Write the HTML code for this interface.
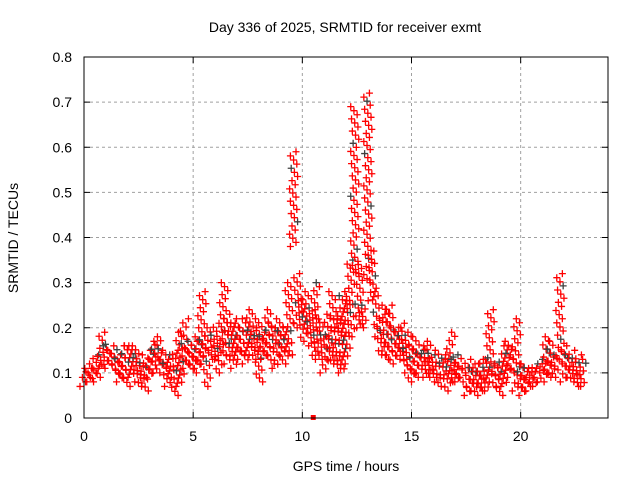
<!DOCTYPE html>
<html><head><meta charset="utf-8"><style>
body{margin:0;background:#fff}
svg{display:block;font-family:"Liberation Sans",sans-serif;font-size:14px}
</style></head><body>
<svg id="chart" width="640" height="480">
<text x="345" y="32" text-anchor="middle">Day 336 of 2025, SRMTID for receiver exmt</text>
<text x="346" y="471" text-anchor="middle">GPS time / hours</text>
<text transform="translate(18,238) rotate(-90)" text-anchor="middle">SRMTID / TECUs</text>
<g id="grid"></g>
<g id="ticks"></g>
<g id="marks"></g>
<rect x="84" y="57" width="524" height="361" fill="none" stroke="#000"/>
</svg>
<script>
const xTicks=[0,5,10,15,20];
const yTicks=[0,0.1,0.2,0.3,0.4,0.5,0.6,0.7,0.8];
const yTickLabels=["0","0.1","0.2","0.3","0.4","0.5","0.6","0.7","0.8"];
const times=[0,0.2,0.4,0.6,0.8,1,1.2,1.4,1.6,1.8,2,2.2,2.4,2.6,2.8,3,3.2,3.4,3.6,3.8,4,4.2,4.4,4.6,4.8,5,5.2,5.4,5.6,5.8,6,6.2,6.4,6.6,6.8,7,7.2,7.4,7.6,7.8,8,8.2,8.4,8.6,8.8,9,9.2,9.4,9.6,9.8,10,10.2,10.4,10.6,10.8,11,11.2,11.4,11.6,11.8,12,12.2,12.4,12.6,12.8,13,13.2,13.4,13.6,13.8,14,14.2,14.4,14.6,14.8,15,15.2,15.4,15.6,15.8,16,16.2,16.4,16.6,16.8,17,17.2,17.4,17.6,17.8,18,18.2,18.4,18.6,18.8,19,19.2,19.4,19.6,19.8,20,20.2,20.4,20.6,20.8,21,21.2,21.4,21.6,21.8,22,22.2,22.4,22.6,22.8];
const lowVals=[0.07,0.08,0.08,0.09,0.11,0.11,0.12,0.10,0.08,0.09,0.07,0.09,0.08,0.07,0.06,0.09,0.10,0.10,0.11,0.07,0.09,0.05,0.07,0.11,0.12,0.10,0.11,0.12,0.07,0.13,0.13,0.10,0.14,0.12,0.11,0.13,0.14,0.12,0.14,0.13,0.08,0.13,0.14,0.12,0.11,0.14,0.12,0.14,0.38,0.20,0.17,0.19,0.16,0.13,0.13,0.10,0.13,0.12,0.11,0.10,0.12,0.18,0.32,0.20,0.20,0.30,0.26,0.18,0.14,0.13,0.14,0.12,0.13,0.13,0.10,0.08,0.09,0.10,0.09,0.09,0.09,0.08,0.07,0.06,0.08,0.08,0.09,0.07,0.05,0.06,0.05,0.06,0.06,0.08,0.07,0.05,0.07,0.09,0.10,0.06,0.05,0.06,0.07,0.07,0.08,0.08,0.09,0.10,0.09,0.12,0.08,0.09,0.08,0.07,0.07];
const highVals=[0.11,0.11,0.12,0.14,0.19,0.16,0.15,0.16,0.14,0.16,0.16,0.16,0.16,0.14,0.13,0.15,0.17,0.18,0.15,0.13,0.14,0.15,0.19,0.22,0.17,0.17,0.18,0.28,0.20,0.17,0.21,0.19,0.30,0.23,0.22,0.21,0.20,0.22,0.24,0.20,0.22,0.19,0.24,0.21,0.20,0.22,0.20,0.30,0.59,0.32,0.26,0.28,0.24,0.30,0.22,0.18,0.23,0.28,0.22,0.28,0.26,0.35,0.69,0.34,0.25,0.72,0.37,0.28,0.23,0.25,0.25,0.20,0.20,0.21,0.19,0.16,0.18,0.15,0.16,0.17,0.14,0.15,0.13,0.14,0.19,0.13,0.14,0.11,0.13,0.12,0.12,0.13,0.13,0.24,0.12,0.12,0.16,0.17,0.14,0.22,0.12,0.12,0.11,0.12,0.12,0.13,0.18,0.17,0.14,0.32,0.16,0.14,0.15,0.14,0.13];
const NS="http://www.w3.org/2000/svg";
const X0=84,X1=608,Y0=418,Y1=57,XMAX=24,YMAX=0.8;
const xs=v=>X0+(X1-X0)*v/XMAX;
const ys=v=>Y0-(Y0-Y1)*v/YMAX;
function mk(tag,attrs,parent){const e=document.createElementNS(NS,tag);for(const k in attrs)e.setAttribute(k,attrs[k]);parent.appendChild(e);return e;}
const grid=document.getElementById('grid'),ticks=document.getElementById('ticks'),marks=document.getElementById('marks');
xTicks.forEach(t=>{const x=xs(t);
 if(t>0){const g=mk('line',{x1:x,x2:x,y1:Y0,y2:Y1,stroke:'#a0a0a0','stroke-dasharray':'3,3'},grid);
 
 }
 mk('line',{x1:x,x2:x,y1:Y0,y2:Y0-6,stroke:'#000'},ticks);
 mk('line',{x1:x,x2:x,y1:Y1,y2:Y1+6,stroke:'#000'},ticks);
 const l=mk('text',{x:x,y:Y0+23,'text-anchor':'middle'},ticks);l.textContent=t;
 
 
});
yTicks.forEach((t,i)=>{const y=ys(t);
 if(t>0&&t<YMAX){const g=mk('line',{x1:X0,x2:X1,y1:y,y2:y,stroke:'#a0a0a0','stroke-dasharray':'3,3'},grid);
 
 }
 mk('line',{x1:X0,x2:X0+6,y1:y,y2:y,stroke:'#000'},ticks);
 mk('line',{x1:X1,x2:X1-6,y1:y,y2:y,stroke:'#000'},ticks);
 const l=mk('text',{x:X0-12,y:y+5,'text-anchor':'end'},ticks);l.textContent=yTickLabels[i];
 
 
});
function cross(x,y,col){const p=mk('path',{d:`M${x-3.5},${y}h7M${x},${y-3.5}v7`,stroke:col,'stroke-width':1.3},marks);
 
 }
times.forEach((t,i)=>{
 const lo=lowVals[i],hi=highVals[i];
 const n=Math.max(4,Math.round((hi-lo)/0.009));
 for(let k=0;k<=n;k++){
  const v=lo+(hi-lo)*k/n;
  const dx=(((k*7+i*3)%11)-5)*0.8;
  cross(xs(t)+dx,ys(v),(k%13===6)?'#404040':'#ff0000');
 }
});
const sq=mk('rect',{x:xs(10.5)-2.5,y:ys(0)-3,width:5,height:5,fill:'#ff0000'},marks);


</script>
</body></html>
